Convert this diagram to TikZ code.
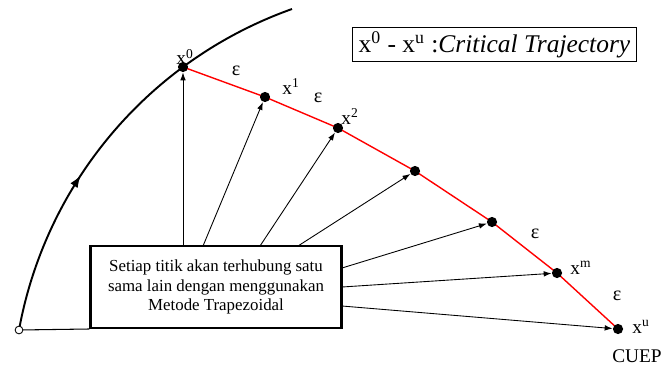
\documentclass[tikz,border=0pt]{standalone}
\usepackage{fontspec}
\setmainfont{Liberation Serif}[ItalicFont={Liberation Serif Italic},BoldFont={Liberation Serif Bold}]
\usetikzlibrary{arrows.meta,decorations.markings}
\begin{document}
\begin{tikzpicture}[x=0.02cm,y=-0.02cm,
  dot/.style={circle,fill=black,inner sep=0pt,minimum size=5.8pt},
  arr/.style={line width=0.5pt,-{Latex[length=4.5pt,width=3.2pt]}},
  lbl/.style={font=\fontsize{11}{13}\selectfont,inner sep=0pt},
  eps/.style={font=\fontsize{11.5}{13}\selectfont,inner sep=0pt},
  bigbox/.style={draw,line width=1.3pt,minimum width=142.9pt,minimum height=46.5pt,inner sep=0pt,align=center,font=\fontsize{9.6}{11.3}\selectfont},
  legend/.style={draw,line width=0.6pt,minimum width=161.6pt,minimum height=19.8pt,inner sep=2pt,font=\fontsize{14.5}{16}\selectfont},
  trajectory/.style={red,line width=0.8pt},
  boundary/.style={line width=1.1pt}
]
\useasboundingbox (0,0) rectangle (665,365);

% points of the trajectory
\coordinate (c0) at (183,67);
\coordinate (c1) at (265,97);
\coordinate (c2) at (338,128);
\coordinate (c3) at (415,171);
\coordinate (c4) at (492,222);
\coordinate (cm) at (557,273);
\coordinate (cu) at (618,329);
\coordinate (o) at (19,330);

% boundary arc
\draw[boundary,postaction={decorate},
  decoration={markings,mark=at position 0.38 with {\arrow{Latex[length=7pt,width=5pt]}}}]
  (o) arc[start angle=-169.65,end angle=-109.59,radius=421];

% red trajectory
\draw[trajectory] (c0) -- (c1) -- (c2) -- (c3) -- (c4) -- (cm) -- (cu);

% dots
\node[dot] (p0) at (c0) {};
\node[dot] (p1) at (c1) {};
\node[dot] (p2) at (c2) {};
\node[dot] (p3) at (c3) {};
\node[dot] (p4) at (c4) {};
\node[dot] (pm) at (cm) {};
\node[dot] (pu) at (cu) {};

% box
\node[bigbox] (box) at (216,287) {Setiap titik akan terhubung satu\\sama lain dengan menggunakan\\Metode Trapezoidal};

% origin
\draw[line width=0.6pt] (o) -- (box.south west);
\node[circle,draw,fill=white,inner sep=0pt,minimum size=4.4pt,line width=0.5pt] (orig) at (o) {};

% start points on the box
\coordinate (s0) at (183,246);
\coordinate (s1) at (203,246);
\coordinate (s2) at (260,246);
\coordinate (s3) at (298,246);
\coordinate (s4) at (342,268);
\coordinate (s5) at (342,287);
\coordinate (s6) at (342,306);

\draw[arr] (s0) -- (p0);
\draw[arr] (s1) -- (p1);
\draw[arr] (s2) -- (p2);
\draw[arr] (s3) -- (p3);
\draw[arr] (s4) -- (p4);
\draw[arr] (s5) -- (pm);
\draw[arr] (s6) -- (pu);

% labels
\node[lbl] (l0) at (185,57) {x\textsuperscript{0}};
\node[lbl] (l1) at (291,87) {x\textsuperscript{1}};
\node[lbl] (l2) at (350,117) {x\textsuperscript{2}};
\node[lbl] (lm) at (581,268) {x\textsuperscript{m}};
\node[lbl] (lu) at (641,327) {x\textsuperscript{u}};
\node[lbl] (cuep) at (637,356) {CUEP};

\node[eps] (e1) at (236,71) {ε};
\node[eps] (e2) at (318,98) {ε};
\node[eps] (e3) at (535,234) {ε};
\node[eps] (e4) at (617,296) {ε};

% legend
\node[legend] (leg) at (494.5,44.5) {x\textsuperscript{0} - x\textsuperscript{u} :\textit{Critical Trajectory}};
\end{tikzpicture}
\end{document}
